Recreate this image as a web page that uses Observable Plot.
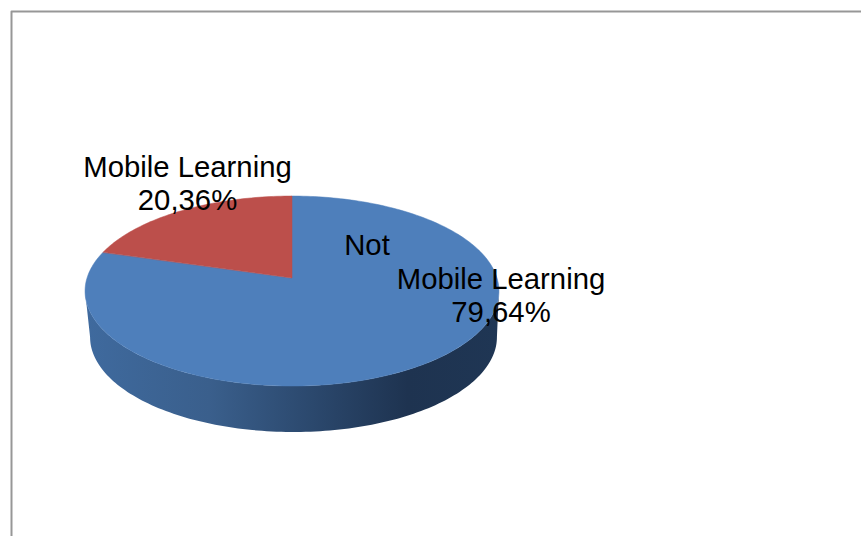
<!DOCTYPE html>
<html>
<head>
<meta charset="utf-8">
<script src="https://cdn.jsdelivr.net/npm/d3@7"></script>
<script src="https://cdn.jsdelivr.net/npm/@observablehq/plot@0.6"></script>
<style>
  html, body { margin: 0; padding: 0; background: #fff; }
  svg { display: block; }
</style>
</head>
<body>
<script>
const categories = ["Not Mobile Learning", "Mobile Learning"];
const shares = [79.64, 20.36];
const sliceColors = ["#4e7fbb", "#bc4f4b"];
const labelLines = [["Not"], ["Mobile Learning", "79,64%"], ["Mobile Learning", "20,36%"]];

// Disc seen in perspective: the hub sits above the middle of the outline,
// and the far side of the rim is compressed by the factor k.
const cx = 292, cy = 278, spreadX = 205, spreadY = 93.2, k = 0.137;
const depth = 46, baseScale = 0.983, baseShift = 1.5;

// Sweep clockwise from twelve o'clock (in percent of the circle) and sample the rim.
function rim(from, to) {
  const n = Math.max(2, Math.ceil((to - from) * 3));
  return d3.range(n + 1).map(i => {
    const a = (from + (to - from) * i / n) / 100 * 2 * Math.PI;
    const w = 1 + k * Math.cos(a);
    return {x: cx + spreadX * Math.sin(a) / w, y: cy - spreadY * Math.cos(a) / w};
  });
}

let start = 0;
const slices = categories.map((name, i) => {
  const from = start;
  start += shares[i];
  return {name, color: sliceColors[i], points: rim(from, start)};
});

// The visible wall hangs from the front of the rim, between its two widest points.
const wall = rim(27.2, 72.8).map(p => ({
  x1: p.x,
  y1: p.y,
  x2: cx + baseShift + (p.x - cx) * baseScale,
  y2: p.y + depth
}));

const defs = () => {
  const ns = "http://www.w3.org/2000/svg";
  const d = document.createElementNS(ns, "defs");
  const g = document.createElementNS(ns, "linearGradient");
  g.setAttribute("id", "wall");
  [[0, "#3f6a9e"], [0.3, "#3a5f8c"], [0.55, "#2b486d"], [0.78, "#1e3350"], [1, "#1f3654"]].forEach(([o, c]) => {
    const s = document.createElementNS(ns, "stop");
    s.setAttribute("offset", o);
    s.setAttribute("stop-color", c);
    g.appendChild(s);
  });
  d.appendChild(g);
  return d;
};

const sans = "'Liberation Sans', Arial, sans-serif";
const labels = [
  {x: 366.5, y: 244, text: labelLines[0].join("\n")},
  {x: 500.5, y: 294.5, text: labelLines[1].join("\n")},
  {x: 187, y: 182, text: labelLines[2].join("\n")}
];

const frame = [[11, 536], [11, 11], [861, 11]].map(([x, y]) => ({x, y}));

const chart = Plot.plot({
  width: 861,
  height: 536,
  margin: 0,
  x: {domain: [0, 861], range: [0, 861], axis: null},
  y: {domain: [0, 536], range: [0, 536], axis: null},
  marks: [
    defs,
    Plot.line(frame, {x: "x", y: "y", stroke: "#979797", strokeWidth: 2, curve: "linear"}),
    Plot.area(wall, {x1: "x1", y1: "y1", x2: "x2", y2: "y2", fill: "url(#wall)"}),
    ...slices.map(s => Plot.area(s.points, {
      x1: () => cx, y1: () => cy, x2: "x", y2: "y", fill: s.color, stroke: s.color, strokeWidth: 0.5
    })),
    Plot.text(labels, {
      x: "x", y: "y", text: "text", lineHeight: 1.13, textAnchor: "middle",
      fontFamily: sans, fontSize: 29.3, fill: "#000"
    })
  ]
});
document.body.appendChild(chart);
</script>
</body>
</html>
